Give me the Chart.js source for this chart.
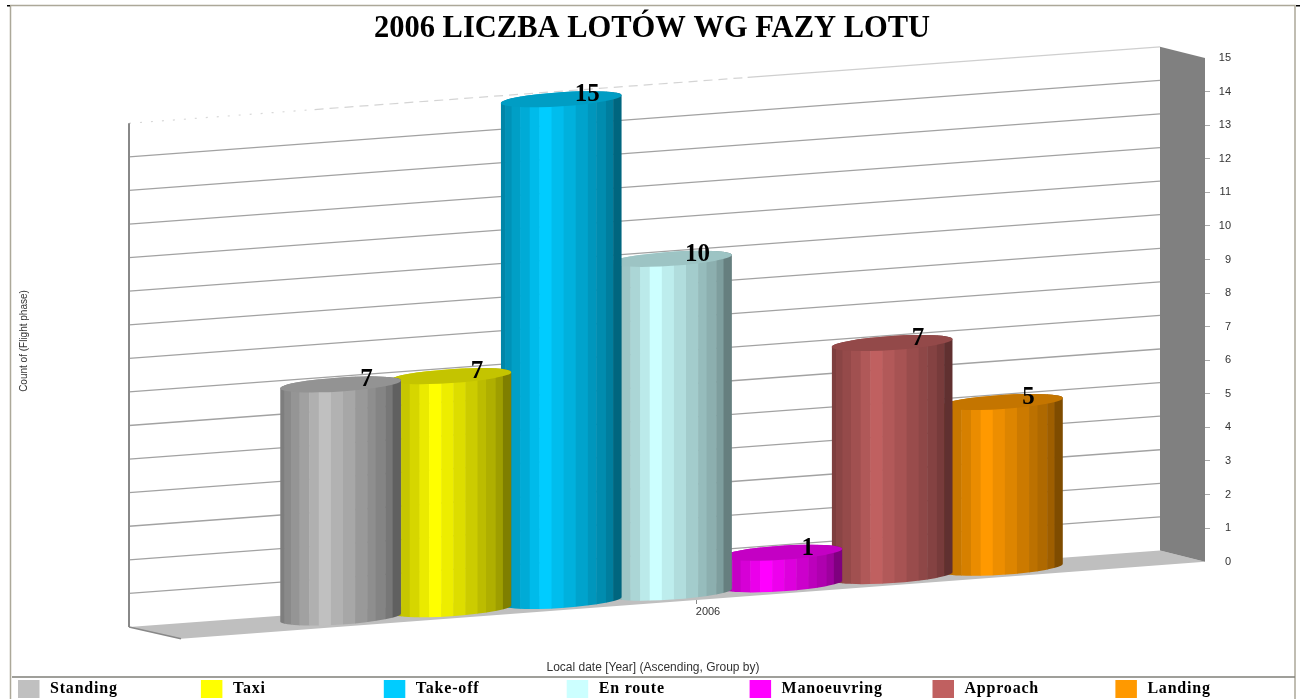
<!DOCTYPE html>
<html><head><meta charset="utf-8">
<style>html,body{margin:0;padding:0;background:#fff;overflow:hidden}canvas{display:block}</style>
<script src="https://cdn.jsdelivr.net/npm/chart.js@4"></script>
</head><body><canvas id="c" width="1301" height="699"></canvas>
<script>
const chartTitle = '2006 LICZBA LOTÓW WG FAZY LOTU';
const categories = ['2006'];
const phases = ['Standing','Taxi','Take-off','En route','Manoeuvring','Approach','Landing'];
const counts = [7,7,15,10,1,7,5];
const colors = ['#c0c0c0','#ffff00','#00ccff','#ccffff','#ff00ff','#c06060','#ff9900'];
const yTitle = 'Count of (Flight phase)';
const xTitle = 'Local date [Year] (Ascending, Group by)';

const SERIF = '"Liberation Serif", serif', SANS = '"Liberation Sans", sans-serif';
const facetEdges = [0,.036,.09,.16,.24,.32,.42,.52,.62,.72,.79,.87,.93,1];
const facetShade = [.66,.72,.78,.84,.92,1,.93,.87,.8,.74,.69,.62,.5];
function shade(hex,f){const n=parseInt(hex.slice(1),16);
  return `rgb(${((n>>16)&255)*f|0},${((n>>8)&255)*f|0},${(n&255)*f|0})`;}

const scene = {
  id:'scene',
  afterLayout(chart){ const s=chart.scales.yLeft; s.top=120; s.bottom=562; s.left=4; chart.scales.y.right=1231; },
  beforeDatasetsDraw(chart){
    const c=chart.ctx, y=chart.scales.y;
    const y0=y.getPixelForValue(0), y15=y.getPixelForValue(15);
    c.save();
    // frame
    c.strokeStyle='#aca899'; c.lineWidth=1.5;
    c.beginPath(); c.moveTo(10.5,699); c.lineTo(10.5,5.5); c.lineTo(1295,5.5); c.lineTo(1295,699); c.stroke();
    c.fillStyle='#000'; c.fillRect(7,5,3,1.5); c.fillRect(1296,5,4,1.5);
    c.strokeStyle='#7f7f78'; c.lineWidth=1.5;
    c.beginPath(); c.moveTo(12,677); c.lineTo(1295,677); c.stroke();
    // floor and side wall
    const L=129,R=1160,FL=181,FR=1205, dL=65.3, dR=-11.2;
    c.fillStyle='#bfbfbf'; c.beginPath();
    c.moveTo(L,y0+dL); c.lineTo(R,y0+dR); c.lineTo(FR,y0); c.lineTo(FL,638.7); c.closePath(); c.fill();
    c.fillStyle='#808080'; c.beginPath();
    c.moveTo(R,y15+dR); c.lineTo(FR,y15); c.lineTo(FR,y0); c.lineTo(R,y0+dR); c.closePath(); c.fill();
    // grid on back wall
    c.lineWidth=1.3; c.strokeStyle='#a2a2a2';
    for(let v=1;v<15;v++){const p=y.getPixelForValue(v);
      c.beginPath(); c.moveTo(L,p+dL); c.lineTo(R,p+dR); c.stroke();}
    // top edge, dashed
    const at=t=>[L+(R-L)*t, y15+dL+(dR-dL)*t];
    [[0,.18,[2,9],'#d8d8d8'],[.18,.6,[9,6],'#d4d4d4'],[.6,1,[],'#cfcfcf']].forEach(([a,b,d,col])=>{
      c.setLineDash(d); c.strokeStyle=col; c.lineWidth=1.2; c.beginPath();
      c.moveTo(...at(a)); c.lineTo(...at(b)); c.stroke();});
    c.setLineDash([]);
    c.strokeStyle='#888'; c.lineWidth=2;
    c.beginPath(); c.moveTo(L,y15+dL); c.lineTo(L,y0+dL); c.stroke();
    c.lineWidth=1.5; c.beginPath(); c.moveTo(L,y0+dL); c.lineTo(FL,638.7); c.stroke();
    // category tick
    c.strokeStyle='#888'; c.lineWidth=1; c.beginPath(); c.moveTo(696.5,600); c.lineTo(696.5,604); c.stroke();
    c.restore();
  },
  beforeDatasetDraw(chart,args){
    const c=chart.ctx, bar=args.meta.data[0], col=colors[args.index];
    const cx=bar.x+18.5, rx=bar.width/2, ry=7, tilt=Math.atan(-0.066);
    const dy=56.3-(cx-340)*0.075;
    const by=bar.base+dy, ty=bar.y+dy+1.5;
    c.save();
    c.beginPath();
    c.ellipse(cx,by,rx,ry,tilt,0,Math.PI);
    c.ellipse(cx,ty,rx,ry,tilt,Math.PI,2*Math.PI);
    c.closePath();
    c.save(); c.clip();
    const x0=cx-rx;
    for(let i=0;i<facetShade.length;i++){
      c.fillStyle=shade(col,facetShade[i]);
      const a=x0+facetEdges[i]*2*rx, b=x0+facetEdges[i+1]*2*rx;
      c.fillRect(a,ty-20,b-a+.5,by-ty+40);
    }
    c.restore();
    c.fillStyle=shade(col,.77);
    c.beginPath(); c.ellipse(cx,ty,rx,ry,tilt,0,2*Math.PI); c.fill();
    c.restore();
    return false;
  },
  afterDatasetsDraw(chart){
    const c=chart.ctx;
    c.save();
    // value labels
    c.fillStyle='#000'; c.font='bold 25px '+SERIF; c.textAlign='center'; c.textBaseline='middle';
    chart.getSortedVisibleDatasetMetas().forEach((m,i)=>{
      const bar=m.data[0], cx=bar.x+18.5, dy=56.3-(cx-340)*0.075;
      c.fillText(String(counts[m.index]),cx+26,bar.y+dy-3);
    });
    // legend
    c.font='bold 16px '+SERIF; c.textAlign='left'; c.textBaseline='middle';
    if('letterSpacing' in c) c.letterSpacing='0.8px';
    phases.forEach((p,i)=>{
      const x=18+i*182.9;
      c.fillStyle=colors[i]; c.fillRect(x,680,21.5,18);
      c.fillStyle='#000'; c.fillText(p,x+32,689);
    });
    c.restore();
  }
};

new Chart(document.getElementById('c'),{
  type:'bar',
  data:{labels:categories,datasets:phases.map((p,i)=>({label:p,data:[counts[i]],backgroundColor:colors[i],
    categoryPercentage:.6994,barPercentage:1.097}))},
  plugins:[scene],
  options:{
    responsive:false,animation:false,
    layout:{padding:{left:3,right:0,top:0,bottom:0}},
    plugins:{
      legend:{display:false},tooltip:{enabled:false},
      title:{display:true,text:chartTitle,color:'#000',font:{family:SERIF,size:30.5,weight:'bold',lineHeight:1.2},padding:{top:11,bottom:10.4}}
    },
    scales:{
      x:{position:'bottom',grid:{display:false},border:{display:false},
        ticks:{padding:36,labelOffset:55,color:'#333',font:{family:SANS,size:11}},
        title:{display:true,text:xTitle,color:'#333',font:{family:SANS,size:12},padding:{top:0,bottom:24.5}},
        afterFit(s){s.height=137.3;}},
      y:{position:'right',min:0,max:15,
        grid:{drawOnChartArea:false,tickLength:5,tickColor:t=>(t.tick&&(t.tick.value===0||t.tick.value===15))?'transparent':'#aaa'},
        border:{display:false},
        ticks:{stepSize:1,padding:9,crossAlign:'far',color:'#333',font:{family:SANS,size:11}},
        afterFit(s){s.width=96;}},
      yLeft:{position:'left',grid:{display:false},border:{display:false},ticks:{display:false},
        title:{display:true,text:yTitle,color:'#333',font:{family:SANS,size:10},padding:{top:14,bottom:0}},
        afterFit(s){s.width=98;}}
    }
  }
});
</script></body></html>
